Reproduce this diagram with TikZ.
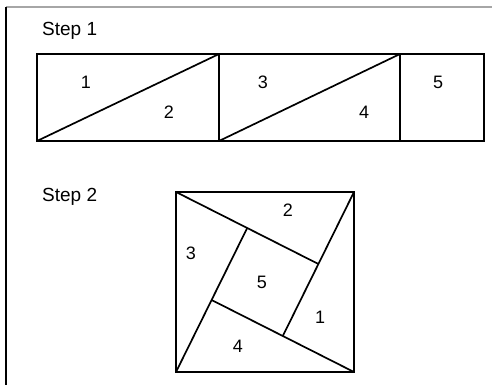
\documentclass[tikz,border=0pt]{standalone}
\usepackage{fontspec}
\setmainfont{Liberation Sans}
\usepackage{tikz}
\usetikzlibrary{calc}

\begin{document}
\begin{tikzpicture}[
        x=1pt, y=-1pt,
        piece/.style={
            draw,
            line width=1.7pt,
            line join=miter
        },
        num/.style={
            font=\fontsize{18}{18}\selectfont,
            inner sep=0pt
        },
        title/.style={
            font=\fontsize{19}{19}\selectfont,
            anchor=base west,
            inner sep=0pt
        }
    ]

    \useasboundingbox (0,0) rectangle (492,385);

    % frame
    \draw[gray!70, line width=1.2pt] (6,7) -- (492,7);
    \draw[line width=1.6pt] (6,7) -- (6,385);

    % step 1
    \node[title] (step1) at (42,36) {Step 1};

    \coordinate (r1) at (37,54);
    \coordinate (r2) at (484,141);
    \coordinate (d1) at (219,54);
    \coordinate (d2) at (400,54);

    \draw[piece] (r1) rectangle (r2);
    \draw[piece] (d1) -- (d1 |- r2);
    \draw[piece] (d2) -- (d2 |- r2);
    \draw[piece] (r1 |- r2) -- (d1);
    \draw[piece] (d1 |- r2) -- (d2);

    \node[num] (p1) at (86,82) {1};
    \node[num] (p2) at (169,112) {2};
    \node[num] (p3) at (263,82) {3};
    \node[num] (p4) at (364,112) {4};
    \node[num] (p5) at (438,82) {5};

    % step 2
    \node[title] (step2) at (42,201) {Step 2};

    \coordinate (tl) at (176,192);
    \coordinate (br) at (354,372);
    \coordinate (tr) at (br |- tl);
    \coordinate (bl) at (tl |- br);

    \coordinate (qa) at ($(tl)!0.4!(tr) + (0,0.2*180)$);
    \coordinate (qb) at ($(tl)!0.8!(tr) + (0,0.4*180)$);
    \coordinate (qc) at ($(tl)!0.6!(tr) + (0,0.8*180)$);
    \coordinate (qd) at ($(tl)!0.2!(tr) + (0,0.6*180)$);

    \draw[piece] (tl) rectangle (br);
    \draw[piece] (tl) -- (qb);
    \draw[piece] (tr) -- (qc);
    \draw[piece] (br) -- (qd);
    \draw[piece] (bl) -- (qa);

    \node[num] (q2) at (288,210) {2};
    \node[num] (q3) at (191,253) {3};
    \node[num] (q5) at (262,282) {5};
    \node[num] (q1) at (320,317) {1};
    \node[num] (q4) at (238,346) {4};

\end{tikzpicture}
\end{document}
